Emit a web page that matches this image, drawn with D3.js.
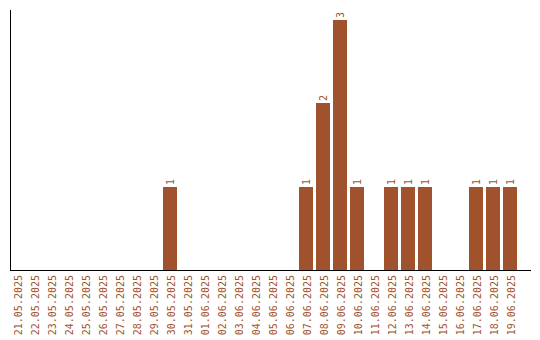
<!DOCTYPE html>
<html>
<head>
<meta charset="utf-8">
<script src="https://cdn.jsdelivr.net/npm/d3@7"></script>
<style>
  body { margin: 0; background: #fff; }
  text { font-family: "DejaVu Sans Mono", monospace; font-size: 10px; fill: #a0522d; }
</style>
</head>
<body>
<div id="chart"></div>
<script>
// dates on the x axis, one per day
var dates = ["21.05.2025","22.05.2025","23.05.2025","24.05.2025","25.05.2025","26.05.2025",
  "27.05.2025","28.05.2025","29.05.2025","30.05.2025","31.05.2025","01.06.2025","02.06.2025",
  "03.06.2025","04.06.2025","05.06.2025","06.06.2025","07.06.2025","08.06.2025","09.06.2025",
  "10.06.2025","11.06.2025","12.06.2025","13.06.2025","14.06.2025","15.06.2025","16.06.2025",
  "17.06.2025","18.06.2025","19.06.2025"];

// count per day
var counts = [0,0,0,0,0,0,0,0,0,1,0,0,0,0,0,0,0,1,2,3,1,0,1,1,1,0,0,1,1,1];

var width = 540, height = 340;
var barColor = "#a0522d";

var svg = d3.select("#chart").append("svg")
    .attr("width", width)
    .attr("height", height);

var x = d3.scaleBand()
    .domain(dates)
    .range([8.5, 518.5])
    .paddingInner(3 / 17)
    .paddingOuter(1.5 / 17);

var y = d3.scaleLinear()
    .domain([0, 3])
    .range([270, 20]);

var data = dates.map(function(d, i) { return { date: d, value: counts[i] }; });

// bars
svg.selectAll("rect.bar")
    .data(data.filter(function(d) { return d.value > 0; }))
    .enter()
    .append("rect")
    .attr("class", "bar")
    .attr("x", function(d) { return x(d.date); })
    .attr("y", function(d) { return Math.round(y(d.value)); })
    .attr("width", x.bandwidth())
    .attr("height", function(d) { return 270 - Math.round(y(d.value)); })
    .attr("fill", barColor);

// value labels above bars, rotated
svg.selectAll("text.val")
    .data(data.filter(function(d) { return d.value > 0; }))
    .enter()
    .append("text")
    .attr("class", "val")
    .attr("transform", function(d) {
        return "translate(" + (x(d.date) + x.bandwidth() / 2) + "," + (Math.round(y(d.value)) - 2) + ") rotate(-90)";
    })
    .attr("dy", "0.35em")
    .attr("text-anchor", "start")
    .text(function(d) { return d.value; });

// x labels, rotated
svg.selectAll("text.lab")
    .data(data)
    .enter()
    .append("text")
    .attr("class", "lab")
    .attr("transform", function(d) {
        return "translate(" + (x(d.date) + x.bandwidth() / 2 + 1) + ",275) rotate(-90)";
    })
    .attr("dy", "0.35em")
    .attr("text-anchor", "end")
    .text(function(d) { return d.date; });

// axis lines
svg.append("line")
    .attr("x1", 10.5).attr("x2", 10.5)
    .attr("y1", 10).attr("y2", 271)
    .attr("stroke", "#000");

svg.append("line")
    .attr("x1", 10).attr("x2", 531)
    .attr("y1", 270.5).attr("y2", 270.5)
    .attr("stroke", "#000");
</script>
</body>
</html>
